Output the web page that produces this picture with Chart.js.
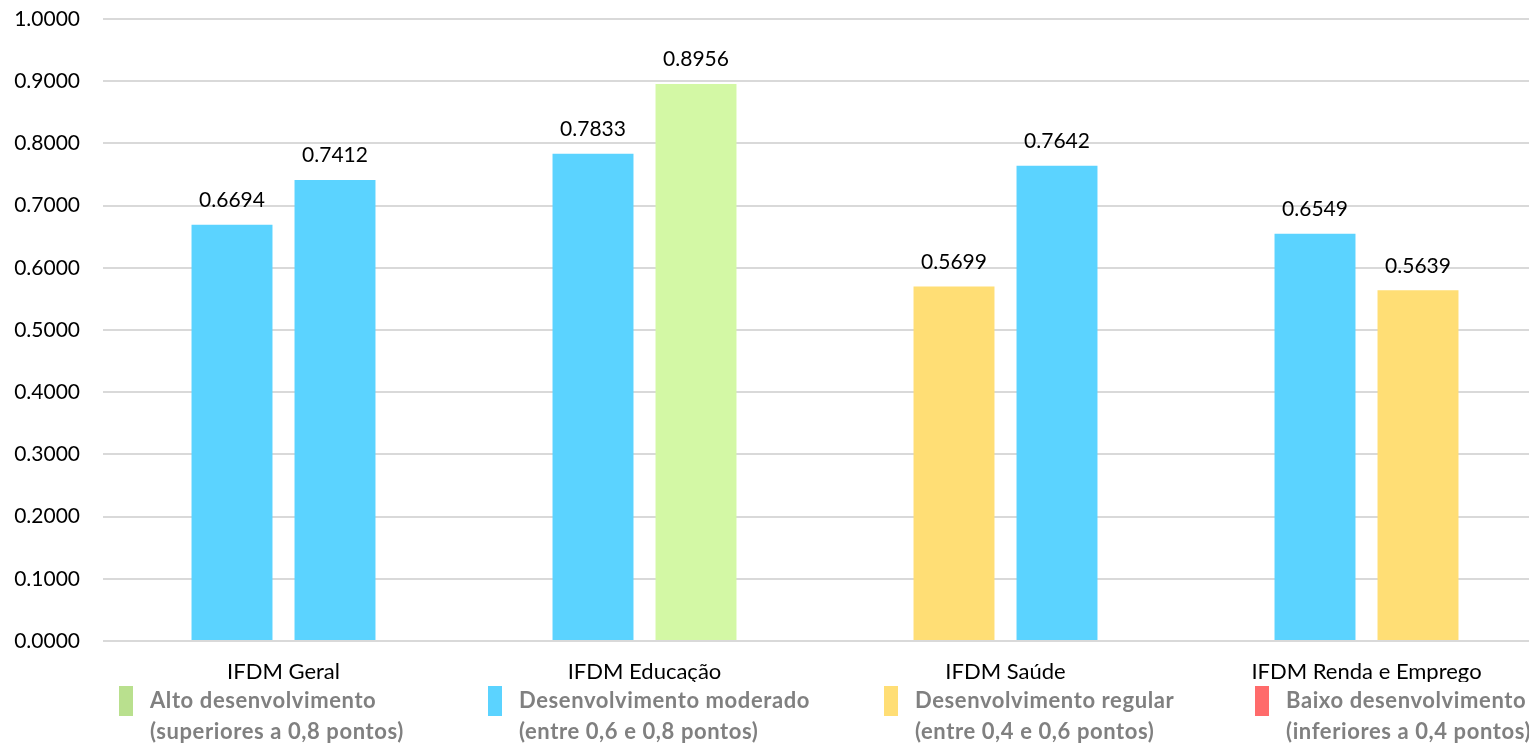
<!DOCTYPE html>
<html>
<head>
<meta charset="utf-8">
<script src="https://cdn.jsdelivr.net/npm/chart.js@4"></script>
<style>
  html, body { margin: 0; padding: 0; background: #fff; overflow: hidden; }
  #wrap { width: 1529px; height: 744px; overflow: hidden; }
  #box { width: 1547px; height: 744px; position: relative; }
</style>
</head>
<body>
<div id="wrap"><div id="box"><canvas id="chart"></canvas></div></div>
<script>
const categories = ['IFDM Geral', 'IFDM Educação', 'IFDM Saúde', 'IFDM Renda e Emprego'];
const serieA = [0.6694, 0.7833, 0.5699, 0.6549];
const serieB = [0.7412, 0.8956, 0.7642, 0.5639];
const yTicks = [0, 0.1, 0.2, 0.3, 0.4, 0.5, 0.6, 0.7, 0.8, 0.9, 1.0];

const legendTitles = ['Alto desenvolvimento', 'Desenvolvimento moderado', 'Desenvolvimento regular', 'Baixo desenvolvimento'];
const legendNotes = ['(superiores a 0,8 pontos)', '(entre 0,6 e 0,8 pontos)', '(entre 0,4 e 0,6 pontos)', '(inferiores a 0,4 pontos)'];
const legendColors = ['#B9E08E', '#5BD3FF', '#FFDE75', '#FF6B6B'];
const legendX = [119, 488, 884, 1255];

const barColor = v => v > 0.8 ? '#D3F8A5' : v >= 0.6 ? '#5BD3FF' : v >= 0.4 ? '#FFDE75' : '#FF6B6B';

const FONT = 'Lato, "Liberation Sans", sans-serif';

const valueLabels = {
  id: 'valueLabels',
  afterDatasetsDraw(chart) {
    const ctx = chart.ctx;
    ctx.save();
    ctx.font = '21px ' + FONT;
    ctx.fillStyle = '#000';
    ctx.textAlign = 'center';
    ctx.textBaseline = 'bottom';
    chart.data.datasets.forEach((ds, i) => {
      chart.getDatasetMeta(i).data.forEach((bar, j) => {
        ctx.fillText(ds.data[j].toFixed(4), bar.x, bar.y - 14);
      });
    });
    ctx.restore();
  }
};

// legenda de faixas desenhada embaixo, por cima do rodapé dos rótulos
const bottomLegend = {
  id: 'bottomLegend',
  afterDraw(chart) {
    const ctx = chart.ctx;
    ctx.save();
    ctx.fillStyle = '#fff';
    ctx.fillRect(0, 682, chart.width, 62);
    ctx.font = 'bold 22px ' + FONT;
    ctx.letterSpacing = '0.6px';
    ctx.textAlign = 'left';
    ctx.textBaseline = 'middle';
    legendTitles.forEach((t, i) => {
      const x = legendX[i];
      ctx.fillStyle = legendColors[i];
      ctx.fillRect(x, 686, 14, 30);
      ctx.fillStyle = '#808080';
      ctx.fillText(t, x + 31, 701);
      ctx.fillText(legendNotes[i], x + 31, 732);
    });
    ctx.restore();
  }
};

new Chart(document.getElementById('chart'), {
  type: 'bar',
  data: {
    labels: categories,
    datasets: [
      { data: serieA, backgroundColor: serieA.map(barColor) },
      { data: serieB, backgroundColor: serieB.map(barColor) }
    ]
  },
  options: {
    responsive: true,
    maintainAspectRatio: false,
    animation: false,
    datasets: { bar: { categoryPercentage: 0.5706, barPercentage: 0.786 } },
    layout: { padding: 0 },
    plugins: { legend: { display: false }, tooltip: { enabled: false } },
    scales: {
      x: {
        grid: { display: false, drawTicks: false },
        border: { display: false },
        ticks: { color: '#000', font: { family: FONT, size: 22 }, padding: 18, maxRotation: 0 },
        afterFit: s => { s.height = 103; }
      },
      y: {
        min: 0, max: 1,
        afterBuildTicks: s => { s.ticks = yTicks.map(v => ({ value: v })); },
        grid: { color: '#d9d9d9', lineWidth: 2, drawTicks: false },
        border: { display: false },
        ticks: { color: '#000', font: { family: FONT, size: 21 }, padding: 23, callback: v => v.toFixed(4) },
        afterFit: s => { s.width = 103; s.paddingTop = 19; s.paddingBottom = 0; }
      }
    }
  },
  plugins: [valueLabels, bottomLegend]
});
</script>
</body>
</html>
